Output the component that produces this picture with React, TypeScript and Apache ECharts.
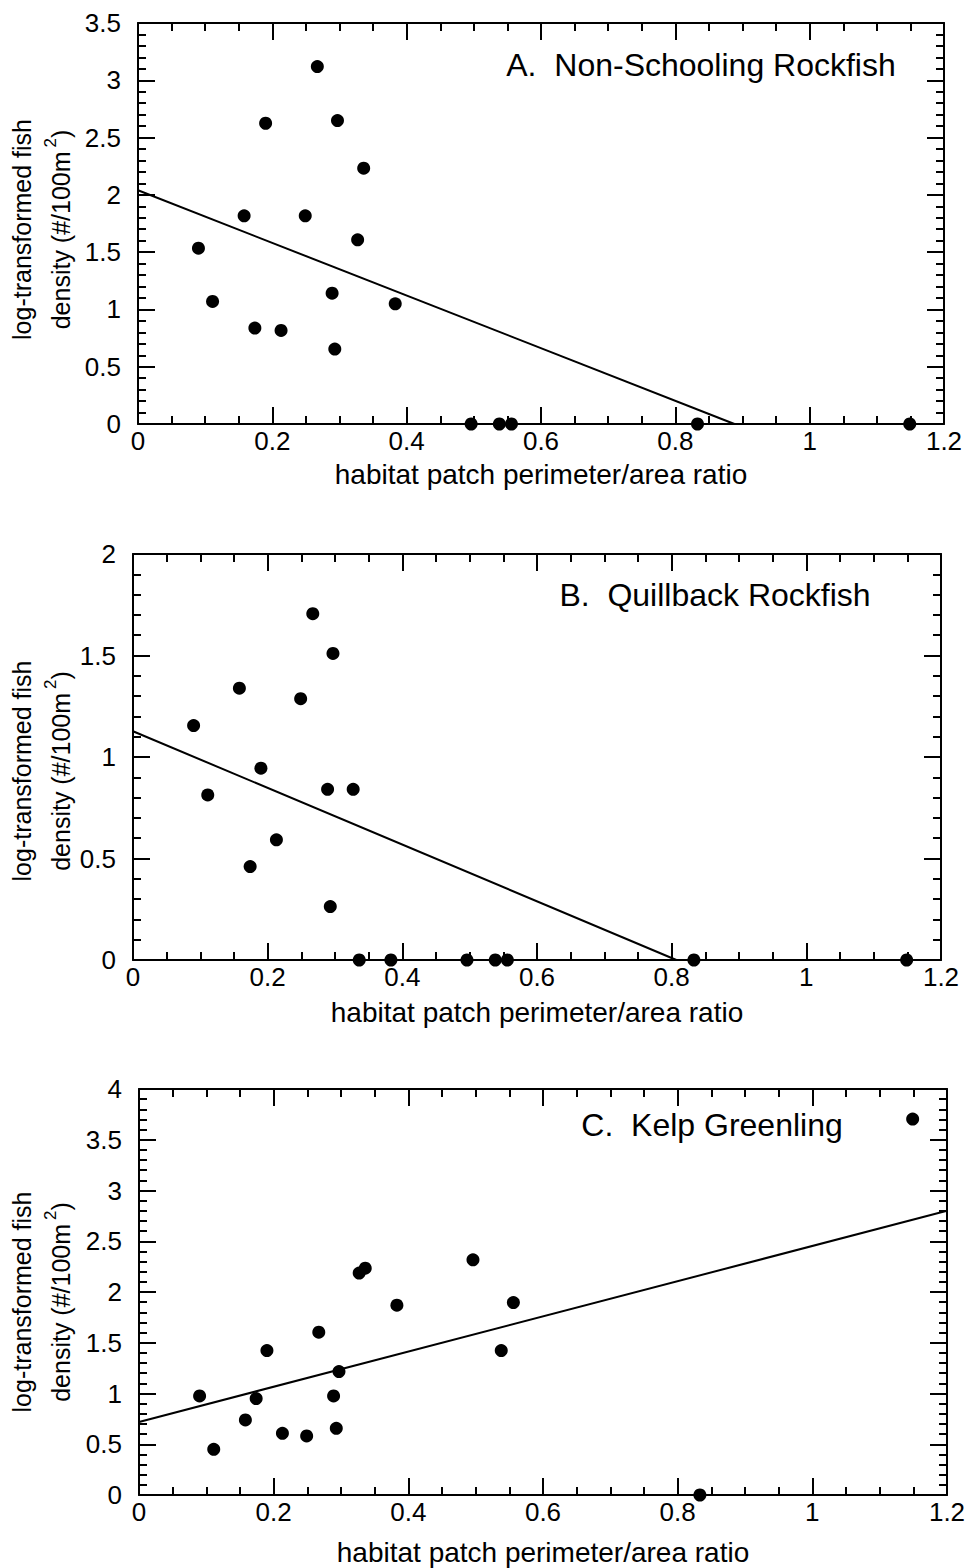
import React, { useEffect, useRef } from "react";
import * as echarts from "echarts";

// ---- data ----
const ratio = [0.09, 0.111, 0.158, 0.174, 0.19, 0.213, 0.249, 0.267, 0.289, 0.293, 0.297, 0.327, 0.336, 0.383, 0.496, 0.538, 0.556, 0.833, 1.149];
const nonSchooling = [1.535, 1.07, 1.817, 0.837, 2.625, 0.817, 1.817, 3.12, 1.142, 0.654, 2.648, 1.608, 2.233, 1.049, 0, 0, 0, 0, 0];
const quillback = [1.155, 0.813, 1.339, 0.46, 0.945, 0.592, 1.287, 1.706, 0.841, 0.263, 1.51, 0.841, 0, 0, 0, 0, 0, 0, 0];
const kelpGreenling = [0.976, 0.45, 0.74, 0.95, 1.423, 0.608, 0.582, 1.604, 0.976, 0.657, 1.216, 2.186, 2.235, 1.87, 2.317, 1.423, 1.896, 0, 3.704];

const fitNonSchooling = [[0, 2.04], [0.888, 0]];
const fitQuillback = [[0, 1.127], [0.807, 0]];
const fitKelp = [[0, 0.72], [1.2, 2.8]];

const yMaxes = [3.5, 2, 4];
const xTicks = { min: 0, max: 1.2, interval: 0.2 };
const panelTitles = ["A.  Non-Schooling Rockfish", "B.  Quillback Rockfish", "C.  Kelp Greenling"];
const xTitle = "habitat patch perimeter/area ratio";
const yTitle = "log-transformed fish\ndensity (#/100m{sup|2})";

const FONT = "'Liberation Sans', Arial, Helvetica, sans-serif";

function buildOption() {
  const grids = [
    { left: 138, top: 23, width: 806, height: 401, outerBoundsMode: "none", containLabel: false },
    { left: 133, top: 554, width: 808, height: 406, outerBoundsMode: "none", containLabel: false },
    { left: 139, top: 1089, width: 808, height: 406, outerBoundsMode: "none", containLabel: false },
  ];
  const xNameGaps = [35, 37, 42];
  const yNameGaps = [57.5, 52.5, 58.5];
  const yNamePads = [12, 28, 20];
  const titlePos = [
    { x: 701, y: 65 },
    { x: 715, y: 595 },
    { x: 712, y: 1125 },
  ];
  const seriesData = [nonSchooling, quillback, kelpGreenling];
  const fits = [fitNonSchooling, fitQuillback, fitKelp];

  const line = { color: "#000", width: 2 };
  const xAxis: any[] = [];
  const yAxis: any[] = [];
  const series: any[] = [];
  const graphic: any[] = [];

  grids.forEach((g, i) => {
    const common = {
      type: "value",
      gridIndex: i,
      splitLine: { show: false },
      axisLine: { show: true, onZero: false, lineStyle: line },
      axisTick: { show: true, inside: true, length: 17, lineStyle: line },
      nameMoveOverlap: false,
    };
    const xBase = {
      ...common,
      min: xTicks.min,
      max: xTicks.max,
      interval: xTicks.interval,
      minorTick: { show: true, splitNumber: 4, length: 8, lineStyle: line },
    };
    xAxis.push({
      ...xBase,
      position: "bottom",
      axisLabel: { color: "#000", fontSize: 26, fontFamily: FONT, margin: 4 },
      name: xTitle,
      nameLocation: "middle",
      nameGap: xNameGaps[i],
      nameTextStyle: { color: "#000", fontSize: 28, fontFamily: FONT, lineHeight: 30 },
    });
    xAxis.push({ ...xBase, position: "top", axisLabel: { show: false } });

    const yBase = {
      ...common,
      min: 0,
      max: yMaxes[i],
      interval: 0.5,
      minorTick: { show: true, splitNumber: 5, length: 8, lineStyle: line },
    };
    yAxis.push({
      ...yBase,
      position: "left",
      axisLabel: { color: "#000", fontSize: 26, fontFamily: FONT, margin: 17 },
      name: yTitle,
      nameLocation: "middle",
      nameGap: yNameGaps[i],
      nameTextStyle: {
        color: "#000",
        fontSize: 25,
        fontFamily: FONT,
        lineHeight: 39,
        padding: [0, yNamePads[i], 0, 0],
        rich: {
          sup: { color: "#000", fontSize: 17, fontFamily: FONT, verticalAlign: "top", padding: [0, 0, 0, 4] },
        },
      },
    });
    yAxis.push({ ...yBase, position: "right", axisLabel: { show: false } });

    series.push({
      type: "scatter",
      xAxisIndex: i * 2,
      yAxisIndex: i * 2,
      data: ratio.map((r, k) => [r, seriesData[i][k]]),
      symbol: "circle",
      symbolSize: 13,
      itemStyle: { color: "#000", opacity: 1 },
      clip: false,
      silent: true,
    });
    series.push({
      type: "line",
      xAxisIndex: i * 2,
      yAxisIndex: i * 2,
      data: fits[i],
      showSymbol: false,
      symbol: "none",
      lineStyle: { color: "#000", width: 2 },
      silent: true,
    });

    graphic.push({
      type: "text",
      x: titlePos[i].x,
      y: titlePos[i].y,
      style: {
        text: panelTitles[i],
        fill: "#000",
        fontSize: 32,
        fontFamily: FONT,
        align: "center",
        verticalAlign: "middle",
        textAlign: "center",
        textVerticalAlign: "middle",
      },
    });
  });

  return {
    animation: false,
    backgroundColor: "#fff",
    grid: grids,
    xAxis,
    yAxis,
    series,
    graphic,
  };
}

export default function App() {
  const ref = useRef<HTMLDivElement>(null);
  useEffect(() => {
    const chart = echarts.init(ref.current!, null, { renderer: "svg" });
    chart.setOption(buildOption() as any);
    return () => chart.dispose();
  }, []);
  return (
    <div
      ref={ref}
      style={{ position: "absolute", left: 0, top: 0, width: 967, height: 1568, background: "#fff" }}
    />
  );
}
